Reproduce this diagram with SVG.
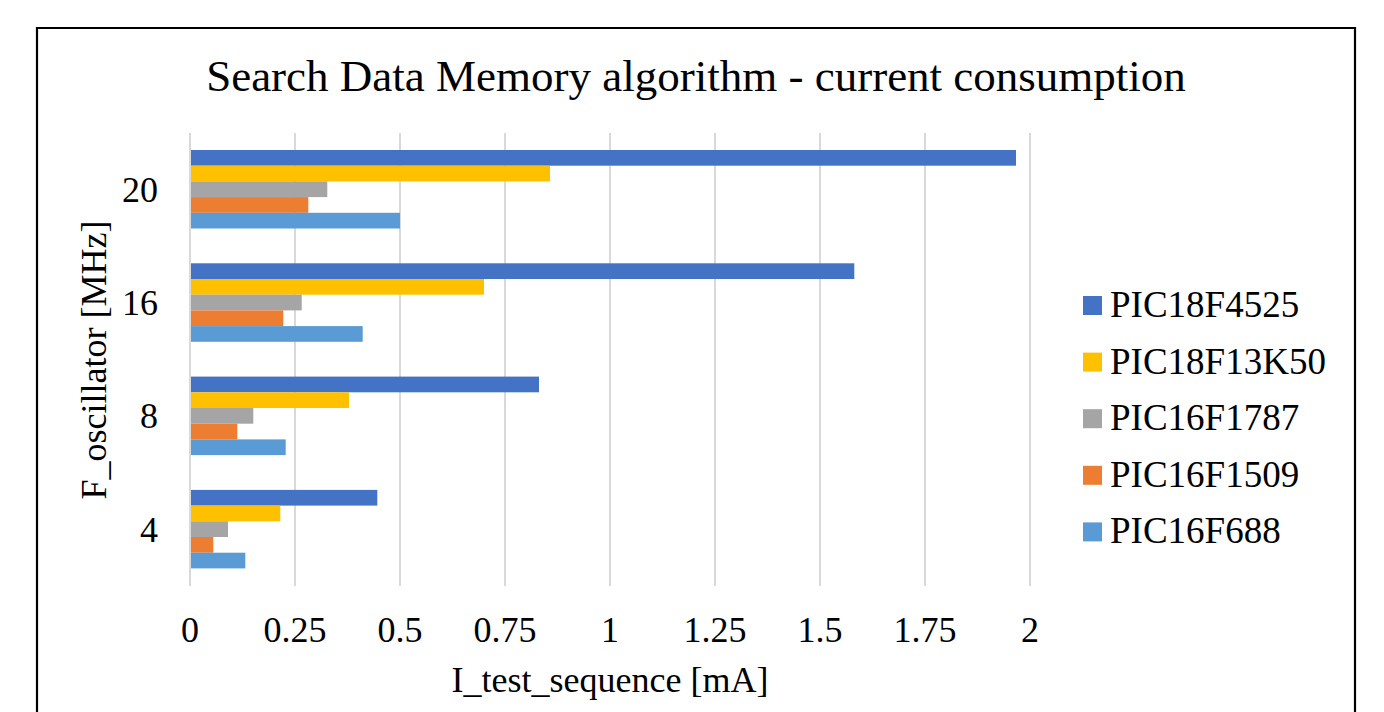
<svg xmlns="http://www.w3.org/2000/svg" width="1384" height="712" viewBox="0 0 1384 712">
<style>
text{font-family:"Liberation Serif","Times New Roman",serif;fill:#000}
.t{font-size:45px}
.l{font-size:36px}
.lg{font-size:37px}
.grid line{stroke:#D9D9D9;stroke-width:2}
.s1{fill:#4472C4}.s2{fill:#FFC000}.s3{fill:#A5A5A5}.s4{fill:#ED7D31}.s5{fill:#5B9BD5}
</style>
<rect width="1384" height="712" fill="#fff"/>
<path d="M37 720 V28 H1355 V720" fill="none" stroke="#000" stroke-width="2.2"/>
<text id="title" class="t" x="696" y="91" text-anchor="middle">Search Data Memory algorithm - current consumption</text>
<g class="grid" id="gridlines">
<line x1="190" y1="133" x2="190" y2="586"/>
<line x1="295" y1="133" x2="295" y2="586"/>
<line x1="400" y1="133" x2="400" y2="586"/>
<line x1="505" y1="133" x2="505" y2="586"/>
<line x1="610" y1="133" x2="610" y2="586"/>
<line x1="715" y1="133" x2="715" y2="586"/>
<line x1="820" y1="133" x2="820" y2="586"/>
<line x1="925" y1="133" x2="925" y2="586"/>
<line x1="1030" y1="133" x2="1030" y2="586"/>
</g>
<g id="cat20">
<rect class="s1" x="191" y="150" width="825" height="15.7"/>
<rect class="s2" x="191" y="165.7" width="359" height="15.7"/>
<rect class="s3" x="191" y="181.4" width="136.3" height="15.7"/>
<rect class="s4" x="191" y="197.1" width="117.3" height="15.7"/>
<rect class="s5" x="191" y="212.8" width="209" height="15.7"/>
</g>
<g id="cat16">
<rect class="s1" x="191" y="263.3" width="663.3" height="15.7"/>
<rect class="s2" x="191" y="279" width="293" height="15.7"/>
<rect class="s3" x="191" y="294.7" width="110.7" height="15.7"/>
<rect class="s4" x="191" y="310.4" width="92.3" height="15.7"/>
<rect class="s5" x="191" y="326.1" width="171.7" height="15.7"/>
</g>
<g id="cat8">
<rect class="s1" x="191" y="376.6" width="348" height="15.7"/>
<rect class="s2" x="191" y="392.3" width="158" height="15.7"/>
<rect class="s3" x="191" y="408" width="62.3" height="15.7"/>
<rect class="s4" x="191" y="423.7" width="46.3" height="15.7"/>
<rect class="s5" x="191" y="439.4" width="94.7" height="15.7"/>
</g>
<g id="cat4">
<rect class="s1" x="191" y="489.9" width="186.3" height="15.7"/>
<rect class="s2" x="191" y="505.6" width="89.3" height="15.7"/>
<rect class="s3" x="191" y="521.3" width="37" height="15.7"/>
<rect class="s4" x="191" y="537" width="22.3" height="15.7"/>
<rect class="s5" x="191" y="552.7" width="54.3" height="15.7"/>
</g>
<g id="xaxis-labels" class="l" text-anchor="middle">
<text x="190" y="642">0</text>
<text x="295" y="642">0.25</text>
<text x="400" y="642">0.5</text>
<text x="505" y="642">0.75</text>
<text x="610" y="642">1</text>
<text x="715" y="642">1.25</text>
<text x="820" y="642">1.5</text>
<text x="925" y="642">1.75</text>
<text x="1030" y="642">2</text>
</g>
<g id="yaxis-labels" class="l" text-anchor="end">
<text x="158" y="202">20</text>
<text x="158" y="315">16</text>
<text x="158" y="428">8</text>
<text x="158" y="542">4</text>
</g>
<text id="xtitle" class="l" x="610" y="692" text-anchor="middle">I_test_sequence [mA]</text>
<text id="ytitle" class="l" transform="translate(106 360) rotate(-90)" text-anchor="middle">F_oscillator [MHz]</text>
<g id="legend">
<g id="leg1"><rect class="s1" x="1083" y="296" width="19" height="19"/><text class="lg" x="1110" y="317">PIC18F4525</text></g>
<g id="leg2"><rect class="s2" x="1083" y="352.6" width="19" height="19"/><text class="lg" x="1110" y="373.6">PIC18F13K50</text></g>
<g id="leg3"><rect class="s3" x="1083" y="409.2" width="19" height="19"/><text class="lg" x="1110" y="430.2">PIC16F1787</text></g>
<g id="leg4"><rect class="s4" x="1083" y="465.8" width="19" height="19"/><text class="lg" x="1110" y="486.8">PIC16F1509</text></g>
<g id="leg5"><rect class="s5" x="1083" y="522.4" width="19" height="19"/><text class="lg" x="1110" y="543.4">PIC16F688</text></g>
</g>
</svg>
